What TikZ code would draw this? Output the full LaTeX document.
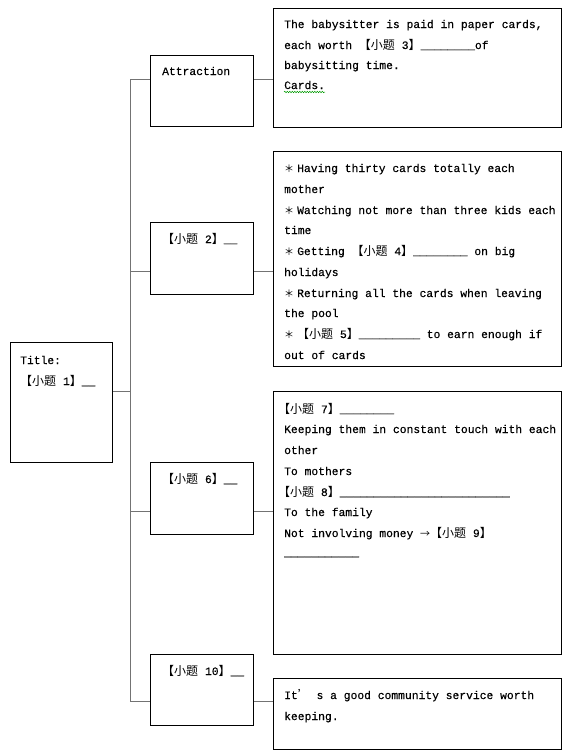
\documentclass[tikz,border=0pt]{standalone}
\usepackage{fontspec}
\setmainfont{Liberation Mono}[FakeBold=0.35]
\setmonofont{Liberation Mono}[FakeBold=0.35]
\newfontfamily\cjk{Noto Sans CJK SC}
\usetikzlibrary{decorations.pathmorphing}
\newcommand{\tq}[1]{{\cjk\fontsize{12}{13}\selectfont 【小题}\ #1{\cjk\fontsize{12}{13}\selectfont 】}}
\newcommand{\cj}[1]{{\cjk\fontsize{12}{13}\selectfont #1}}
\newcommand{\st}{\makebox[13pt][l]{\cjk\fontsize{10}{13}\selectfont ＊}}
\tikzset{
  box/.style={draw=black, line width=0.8pt, inner sep=0pt, anchor=north west},
  txt/.style={anchor=base west, inner sep=0pt, font=\ttfamily\fontsize{11.33}{13}\selectfont},
  link/.style={draw=black!55, line width=1pt},
  wavy/.style={draw=green!60!black, line width=0.5pt, decorate, decoration={snake, amplitude=0.7pt, segment length=2.5pt}}
}
\begin{document}
\begin{tikzpicture}[x=1pt,y=-1pt]
\useasboundingbox (0,0) rectangle (578,756);
% boxes
\node[box, minimum width=288, minimum height=119] (bA) at (273,8) {};
\node[box, minimum width=103, minimum height=71] (attr) at (150,55) {};
\node[box, minimum width=288, minimum height=215] (bB) at (273,151) {};
\node[box, minimum width=103, minimum height=72] (b2) at (150,222) {};
\node[box, minimum width=102, minimum height=120] (title) at (10,342) {};
\node[box, minimum width=288, minimum height=263] (bC) at (273,391) {};
\node[box, minimum width=103, minimum height=72] (b6) at (150,462) {};
\node[box, minimum width=103, minimum height=71] (b10) at (150,654) {};
\node[box, minimum width=288, minimum height=71] (bD) at (273,678) {};
% trunk junctions
\coordinate (t0) at (130,391);
\coordinate (t1) at (130,79);
\coordinate (t2) at (130,271);
\coordinate (t3) at (130,511);
\coordinate (t4) at (130,701);
\draw[link] (t1) -- (t4);
\draw[link] (title.east |- t0) -- (t0);
\draw[link] (t1) -- (t1 -| attr.west);
\draw[link] (t2) -- (t2 -| b2.west);
\draw[link] (t3) -- (t3 -| b6.west);
\draw[link] (t4) -- (t4 -| b10.west);
\draw[link] (attr.east |- t1) -- (t1 -| bA.west);
\draw[link] (b2.east |- t2) -- (t2 -| bB.west);
\draw[link] (b6.east |- t3) -- (t3 -| bC.west);
\draw[link] (b10.east |- t4) -- (t4 -| bD.west);
% box A text
\node[txt] (a1) at (284,28) {The babysitter is paid in paper cards,};
\node[txt] (a2) at (284,49) {each worth \tq{3}\_\_\_\_\_\_\_\_of};
\node[txt] (a3) at (284,69) {babysitting time.};
\node[txt] (a4) at (284,89) {Cards.};
\draw[wavy] ([yshift=-3pt]a4.base west) -- ([yshift=-3pt]a4.base east);
% box B text
\node[txt] (c1) at (284,172) {\st Having thirty cards totally each};
\node[txt] (c2) at (284,193) {mother};
\node[txt] (c3) at (284,214) {\st Watching not more than three kids each};
\node[txt] (c4) at (284,234) {time};
\node[txt] (c5) at (284,255) {\st Getting \tq{4}\_\_\_\_\_\_\_\_ on big};
\node[txt] (c6) at (284,276) {holidays};
\node[txt] (c7) at (284,297) {\st Returning all the cards when leaving};
\node[txt] (c8) at (284,317) {the pool};
\node[txt] (c9) at (284,338) {\st\tq{5}\_\_\_\_\_\_\_\_\_ to earn enough if};
\node[txt] (c10) at (284,359) {out of cards};
% box C text
\node[txt] (d1) at (278,413) {\tq{7}\_\_\_\_\_\_\_\_};
\node[txt] (d2) at (284,433) {Keeping them in constant touch with each};
\node[txt] (d3) at (284,454) {other};
\node[txt] (d4) at (284,475) {To mothers};
\node[txt] (d5) at (278,496) {\tq{8}\_\_\_\_\_\_\_\_\_\_\_\_\_\_\_\_\_\_\_\_\_\_\_\_\_};
\node[txt] (d6) at (284,516) {To the family};
\node[txt] (d7) at (284,537) {Not involving money {\cjk\fontsize{10}{13}\selectfont →}\tq{9}};
\node[txt] (d8) at (284,556) {\_\_\_\_\_\_\_\_\_\_\_};
% box D text
\node[txt] (e1) at (284,699) {It\cj{’} s a good community service worth};
\node[txt] (e2) at (284,720) {keeping.};
% left column text
\node[txt] (f1) at (20,364) {Title:};
\node[txt] (f2) at (20,385) {\tq{1}\_\_};
\node[txt] (g1) at (162,75) {Attraction};
\node[txt] (g2) at (162,243) {\tq{2}\_\_};
\node[txt] (g3) at (162,483) {\tq{6}\_\_};
\node[txt] (g4) at (162,675) {\tq{10}\_\_};
\end{tikzpicture}
\end{document}
